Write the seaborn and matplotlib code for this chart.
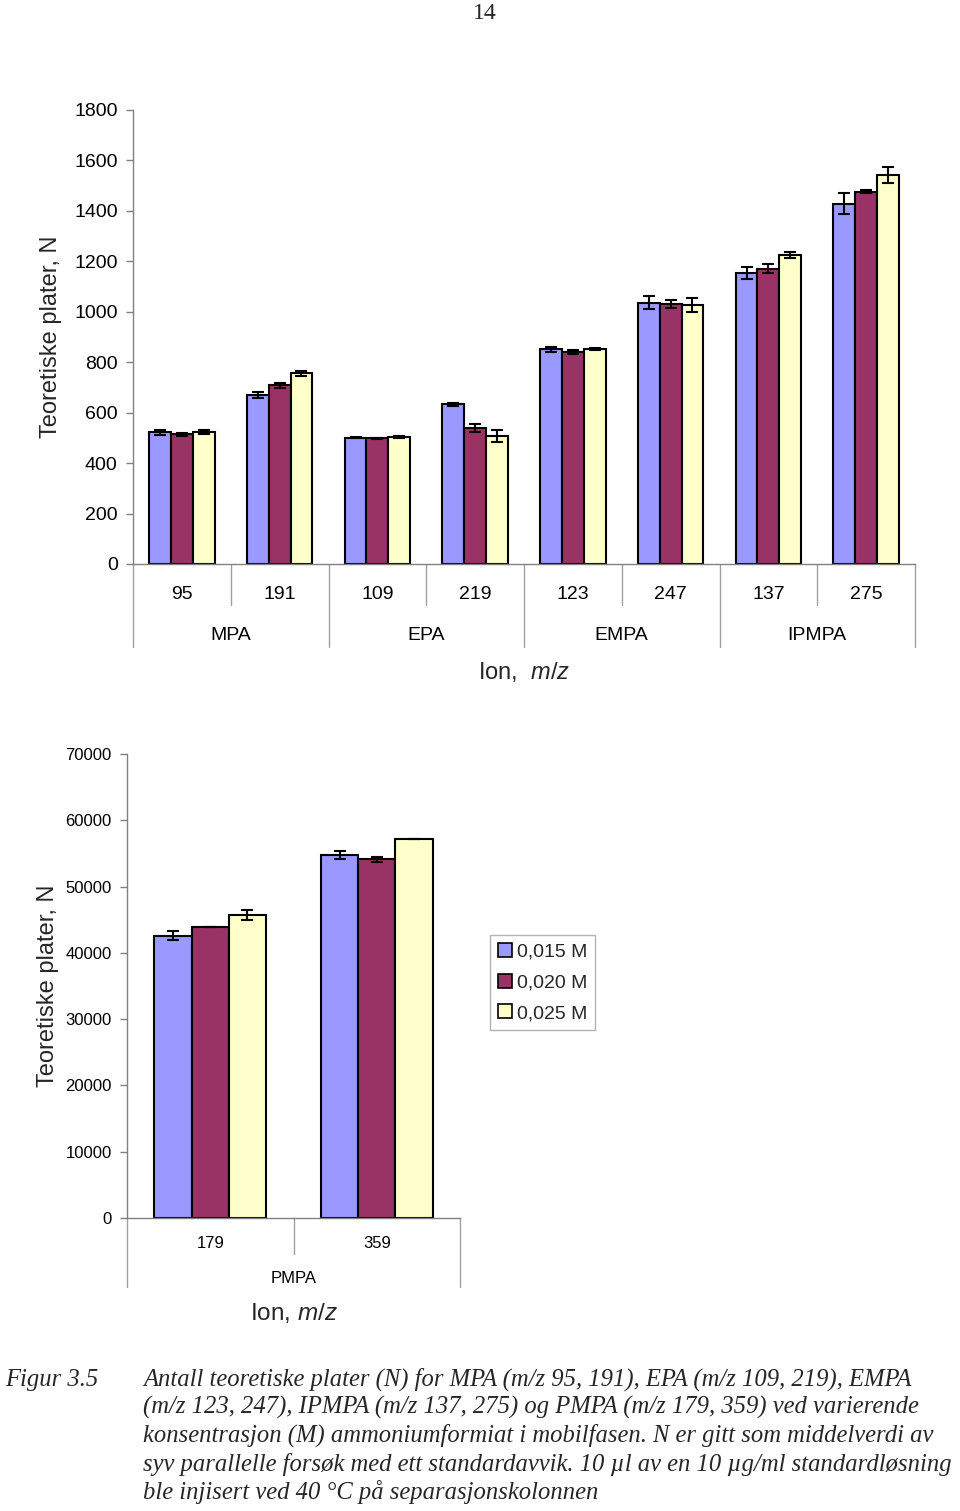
import matplotlib
matplotlib.use("Agg")
import matplotlib.pyplot as plt
import matplotlib.transforms as mtransforms
import numpy as np
import pandas as pd
import seaborn as sns

# ---------------- data ----------------
conc_labels = ["0,015 M", "0,020 M", "0,025 M"]
palette = ["#9999FF", "#993366", "#FFFFCC"]

top_groups = ["MPA", "EPA", "EMPA", "IPMPA"]
top_ions = ["95", "191", "109", "219", "123", "247", "137", "275"]
top_n015 = [522, 671, 501, 633, 851, 1036, 1154, 1429]
top_n020 = [514, 708, 498, 539, 841, 1031, 1171, 1475]
top_n025 = [525, 756, 505, 508, 852, 1026, 1225, 1541]
top_sd015 = [10, 11, 2, 5, 11, 26, 24, 43]
top_sd020 = [5, 10, 2, 17, 8, 16, 17, 6]
top_sd025 = [8, 10, 4, 24, 4, 28, 13, 32]

bot_groups = ["PMPA"]
bot_ions = ["179", "359"]
bot_n015 = [42590, 54760]
bot_n020 = [43850, 54110]
bot_n025 = [45760, 57130]
bot_sd015 = [650, 600]
bot_sd020 = [0, 400]
bot_sd025 = [750, 0]

ylabel = "Teoretiske plater, N"
caption_label = "Figur 3.5"
caption_lines = [
    "Antall teoretiske plater (N) for MPA (m/z 95, 191), EPA (m/z 109, 219), EMPA",
    "(m/z 123, 247), IPMPA (m/z 137, 275) og PMPA (m/z 179, 359) ved varierende",
    "konsentrasjon (M) ammoniumformiat i mobilfasen. N er gitt som middelverdi av",
    "syv parallelle forsøk med ett standardavvik. 10 \u00b5l av en 10 \u00b5g/ml standardløsning",
    "ble injisert ved 40 \u00b0C på separasjonskolonnen",
]


def make_df(ions, n1, n2, n3):
    rows = []
    for c, vals in zip(conc_labels, [n1, n2, n3]):
        for ion, v in zip(ions, vals):
            rows.append({"ion": ion, "N": v, "conc": c})
    return pd.DataFrame(rows)


df_top = make_df(top_ions, top_n015, top_n020, top_n025)
df_bot = make_df(bot_ions, bot_n015, bot_n020, bot_n025)

# ---------------- style ----------------
sns.set_style("white")
plt.rcParams["font.family"] = ["Liberation Sans", "DejaVu Sans"]
plt.rcParams["mathtext.fontset"] = "custom"
plt.rcParams["mathtext.rm"] = "Liberation Sans"
plt.rcParams["mathtext.it"] = "Liberation Sans:italic"

W, H = 960, 1511
fig = plt.figure(figsize=(W / 100, H / 100), dpi=100)

AX_GREY = "#808080"


def fbox(l, t, r, b):
    return [l / W, 1 - b / H, (r - l) / W, (b - t) / H]


def style_axes(ax, ytick_size, xtick_size, xpad):
    for s in ["top", "right"]:
        ax.spines[s].set_visible(False)
    for s in ["left", "bottom"]:
        ax.spines[s].set_color(AX_GREY)
        ax.spines[s].set_linewidth(1.0)
    ax.tick_params(axis="y", left=True, length=5, width=1, color=AX_GREY,
                   direction="out", labelsize=ytick_size, labelcolor="black", pad=6)
    ax.tick_params(axis="x", bottom=False, length=0, labelsize=xtick_size,
                   labelcolor="black", pad=xpad)
    ax.set_xlabel("")
    ax.set_ylabel("")
    ax.grid(False)


def add_errorbars(ax, sds):
    for cont, sd in zip(ax.containers, sds):
        xs = [p.get_x() + p.get_width() / 2 for p in cont]
        ys = [p.get_height() for p in cont]
        ax.errorbar(xs, ys, yerr=sd, fmt="none", ecolor="black",
                    elinewidth=1.5, capsize=4.3, capthick=1.5, zorder=5)


def add_separators(ax, n_ions, ions_per_group, short_px, long_px, ax_h_px):
    tr = mtransforms.blended_transform_factory(ax.transData, ax.transAxes)
    for k in range(n_ions + 1):
        xb = k - 0.5
        is_group = (k % ions_per_group == 0)
        depth = (long_px if is_group else short_px) / ax_h_px
        ax.plot([xb, xb], [0, -depth], transform=tr, color="#A0A0A0",
                lw=1.0, clip_on=False, zorder=1)


def add_group_labels(ax, groups, ions_per_group, y_axes, size):
    tr = mtransforms.blended_transform_factory(ax.transData, ax.transAxes)
    for g, name in enumerate(groups):
        xc = g * ions_per_group + (ions_per_group - 1) / 2
        ax.text(xc, y_axes, name, transform=tr, ha="center", va="baseline",
                fontsize=size, color="black")


# ---------------- top chart ----------------
ax1 = fig.add_axes(fbox(133, 110, 915, 564))
sns.barplot(data=df_top, x="ion", y="N", hue="conc", order=top_ions,
            hue_order=conc_labels, palette=palette, errorbar=None,
            edgecolor="black", linewidth=1.5, width=0.67, gap=0,
            saturation=1, legend=False, ax=ax1)
add_errorbars(ax1, [top_sd015, top_sd020, top_sd025])
ax1.set_xlim(-0.5, len(top_ions) - 0.5)
ax1.set_ylim(0, 1800)
ax1.set_yticks(np.arange(0, 1801, 200))
style_axes(ax1, 14, 14, 16)
add_separators(ax1, len(top_ions), 2, 41, 83, 454)
add_group_labels(ax1, top_groups, 2, (564 - 640) / 454, 14)
ax1.text(0.5, (564 - 679) / 454, r"Ion,  $\mathit{m/z}$", transform=ax1.transAxes,
         ha="center", va="baseline", fontsize=17)
ax1.set_ylabel(ylabel, fontsize=17)
ax1.yaxis.set_label_coords((62 - 133) / 782, 0.5)

# ---------------- bottom chart ----------------
ax2 = fig.add_axes(fbox(127, 754, 460, 1218))
sns.barplot(data=df_bot, x="ion", y="N", hue="conc", order=bot_ions,
            hue_order=conc_labels, palette=palette, errorbar=None,
            edgecolor="black", linewidth=1.5, width=0.67, gap=0,
            saturation=1, legend=True, ax=ax2)
add_errorbars(ax2, [bot_sd015, bot_sd020, bot_sd025])
ax2.set_xlim(-0.5, len(bot_ions) - 0.5)
ax2.set_ylim(0, 70000)
ax2.set_yticks(np.arange(0, 70001, 10000))
style_axes(ax2, 12, 12, 13)
add_separators(ax2, len(bot_ions), 2, 36, 69, 464)
add_group_labels(ax2, bot_groups, 2, (1218 - 1283) / 464, 12)
ax2.text(0.5, (1218 - 1320) / 464, r"Ion, $\mathit{m/z}$", transform=ax2.transAxes,
         ha="center", va="baseline", fontsize=17.5)
ax2.set_ylabel(ylabel, fontsize=17)
ax2.yaxis.set_label_coords((59 - 127) / 333, 0.5)

handles, labels = ax2.get_legend_handles_labels()
if ax2.get_legend() is not None:
    ax2.get_legend().remove()
for h in handles:
    h.set_edgecolor("black")
    h.set_linewidth(1.2)
leg = fig.legend(handles, labels, loc="upper left",
                 bbox_to_anchor=(490 / W, 1 - 935 / H), bbox_transform=fig.transFigure,
                 fontsize=14, frameon=True, fancybox=False, edgecolor="#A0A0A0",
                 handlelength=0.75, handleheight=0.75, handletextpad=0.25,
                 labelspacing=0.66, borderpad=0.4, borderaxespad=0)
leg.get_frame().set_linewidth(1.0)

# ---------------- page number & caption ----------------
fig.text(485 / W, 1 - 19 / H, "14", ha="center", va="baseline",
         fontsize=17, family=["Liberation Serif", "DejaVu Serif"])

serif = ["Liberation Serif", "DejaVu Serif"]
baselines = [1386, 1414, 1442, 1471, 1499]
renderer = fig.canvas.get_renderer()
fs0 = 17
widths = []
for line in caption_lines:
    probe = fig.text(0, 0, line, fontsize=fs0, style="italic", family=serif)
    widths.append(probe.get_window_extent(renderer).width)
    probe.remove()
fs = min(fs0 * 785 / widths[0], fs0 * 812 / widths[3])
fig.text(5 / W, 1 - baselines[0] / H, caption_label, ha="left", va="baseline",
         fontsize=fs, style="italic", family=serif)
for line, b in zip(caption_lines, baselines):
    fig.text(143 / W, 1 - b / H, line, ha="left", va="baseline",
             fontsize=fs, style="italic", family=serif)

fig.savefig("out.png", dpi=100)
